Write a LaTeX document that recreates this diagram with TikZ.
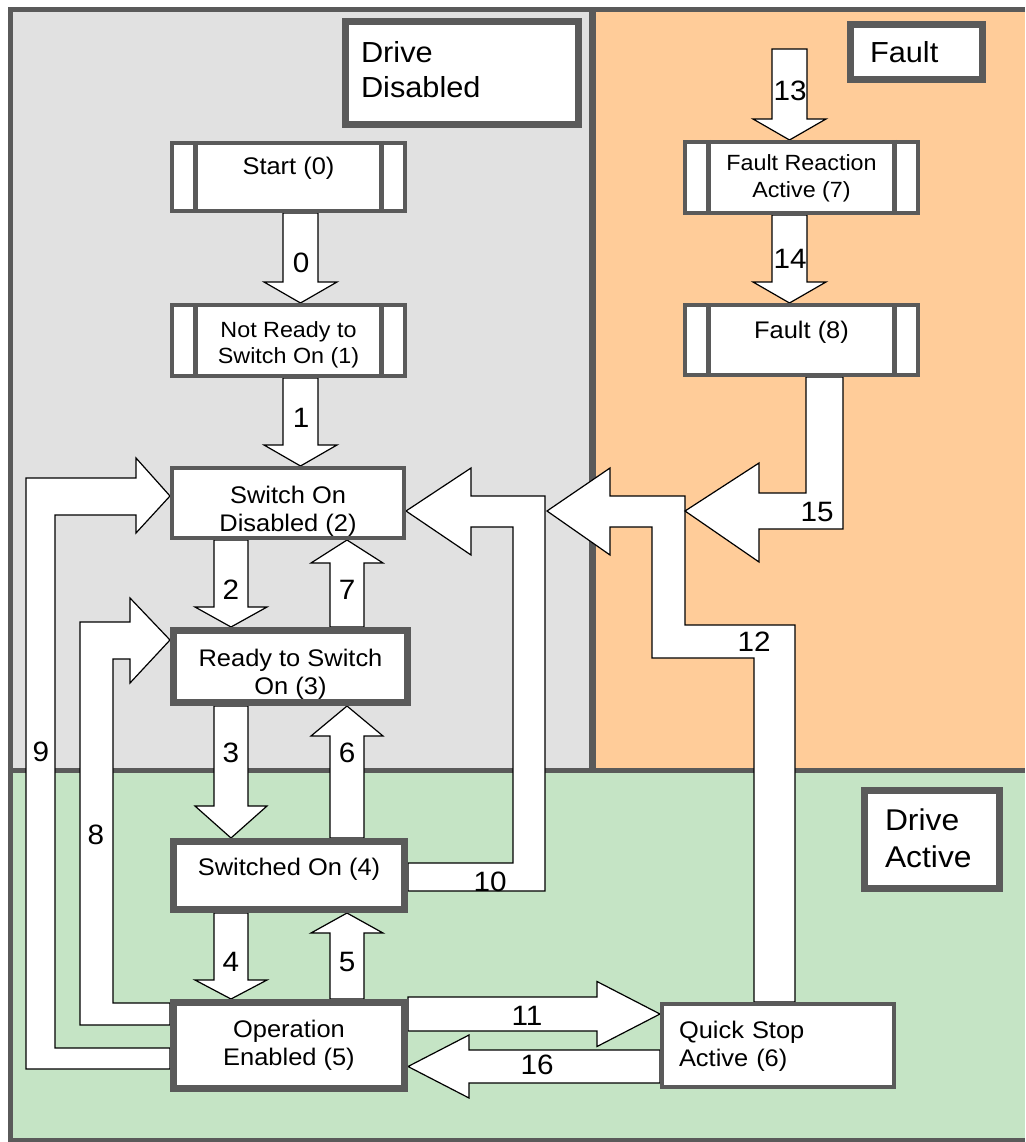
\documentclass[tikz,border=0pt]{standalone}
\usepackage{fontspec}
\setmainfont{Liberation Sans}[FakeStretch=1.06]
\usetikzlibrary{calc}
\pgfdeclarelayer{bg}
\pgfdeclarelayer{fg}
\pgfsetlayers{bg,main,fg}
\definecolor{bordergray}{HTML}{5A5A5A}
\definecolor{regiongray}{HTML}{E1E1E1}
\definecolor{regionorange}{HTML}{FFCC99}
\definecolor{regiongreen}{HTML}{C5E4C5}
\newcommand\tp[1]{\rule{0pt}{#1pt}}
\newcommand\bt[1]{\rule[-#1pt]{0pt}{#1pt}}
% vertical block arrow: tail point, tip point, shaft half width, head half width, head length
\newcommand\blockv[5]{%
  \path[blk] let \p1=(#1), \p2=(#2), \n1={sign(\y2-\y1)} in
    ({\x1-#3},{\y1}) -- ({\x1-#3},{\y2-(\n1)*#5}) -- ({\x1-#4},{\y2-(\n1)*#5}) --
    (\x2,\y2) -- ({\x1+#4},{\y2-(\n1)*#5}) -- ({\x1+#3},{\y2-(\n1)*#5}) --
    ({\x1+#3},{\y1}) -- cycle;}
% horizontal block arrow
\newcommand\blockh[5]{%
  \path[blk] let \p1=(#1), \p2=(#2), \n1={sign(\x2-\x1)} in
    ({\x1},{\y1-#3}) -- ({\x2-(\n1)*#5},{\y1-#3}) -- ({\x2-(\n1)*#5},{\y1-#4}) --
    (\x2,\y1) -- ({\x2-(\n1)*#5},{\y1+#4}) -- ({\x2-(\n1)*#5},{\y1+#3}) --
    ({\x1},{\y1+#3}) -- cycle;}
\tikzset{
  statebase/.style={draw=bordergray, fill=white, inner sep=0pt, align=center,
    text=black, font=\fontsize{24}{28}\selectfont},
  dbox/.style={statebase, line width=4, minimum width=233},
  thinbox/.style={statebase, line width=4},
  thickbox/.style={statebase, line width=7},
  tagbox/.style={draw=bordergray, fill=white, line width=7, inner sep=0pt,
    align=left, text=black, font=\fontsize{29}{35}\selectfont},
  sidebar/.style={draw=bordergray, line width=5},
  blk/.style={fill=white, draw=black, line width=1.2, line join=miter},
  lbl/.style={inner sep=0pt, text=black, font=\fontsize{28}{30}\selectfont},
  regionline/.style={draw=bordergray, line width=5},
}
\begin{document}
\begin{tikzpicture}[x=1pt,y=-1pt]
\useasboundingbox (0,0) rectangle (1025,1142);

\begin{pgfonlayer}{bg}
  \fill[regiongray] (10,10) rectangle (592,770);
  \fill[regionorange] (592,10) rectangle (1025,770);
  \fill[regiongreen] (10,770) rectangle (1025,1140);
  \draw[regionline] (1025,10) -- (10,10) -- (10,1140) -- (1025,1140);
  \draw[regionline, line width=7] (592,10) -- (592,770);
  \draw[regionline] (10,770) -- (1025,770);
\end{pgfonlayer}

\begin{pgfonlayer}{fg}
  % region tags
  \node[tagbox, minimum width=233, minimum height=103, text width=202] (dd) at (462,73)
    {\tp{22}Drive\\Disabled\bt{7}};
  \node[tagbox, minimum width=132, minimum height=55, text width=93,
        font=\fontsize{29}{36}\selectfont] (fl) at (916.5,52) {\tp{22.5}Fault\bt{0.5}};
  \node[tagbox, minimum width=135, minimum height=98, text width=94,
        font=\fontsize{30}{37}\selectfont] (da) at (932,839.5)
    {\tp{24}Drive\\Active\bt{6}};

  % states
  \node[dbox, minimum height=68] (start) at (288.5,177) {Start (0)\tp{18}\bt{22}};
  \node[dbox, minimum height=71, font=\fontsize{22}{26}\selectfont] (nr) at (288.5,340.5)
    {\tp{25}Not Ready to\\Switch On (1)\bt{6}};
  \node[dbox, minimum height=71, font=\fontsize{22}{27}\selectfont] (fra) at (801.5,177.5)
    {\tp{18}Fault Reaction\\Active (7)\bt{6}};
  \node[dbox, minimum height=70] (flt) at (801.5,340) {Fault (8)\tp{18}\bt{22}};
  \node[thinbox, minimum width=232, minimum height=70] (sod) at (288,503)
    {\tp{34}Switch On\\Disabled (2)\bt{6}};
  \node[thickbox, minimum width=234, minimum height=72] (rdy) at (290.5,666.5)
    {\tp{33}Ready to Switch\\On (3)\bt{6}};
  \node[thickbox, minimum width=231, minimum height=68] (son) at (289,875.5)
    {Switched On (4)\tp{18}\bt{19}};
  \node[thickbox, minimum width=231, minimum height=86] (op) at (289,1045.5)
    {\tp{19}Operation\\Enabled (5)\bt{6.5}};
  \node[thinbox, minimum width=232, minimum height=83, align=left, text width=198] (qs)
    at (778,1045.5) {\tp{19}Quick Stop\\Active (6)\bt{6}};

  % side bars of the double-bar states
  \foreach \n in {start,nr,fra,flt}{
    \draw[sidebar] ([xshift=-93]\n.north) -- ([xshift=-93]\n.south);
    \draw[sidebar] ([xshift=93]\n.north) -- ([xshift=93]\n.south);
  }

  % transition labels
  \node[lbl] (l0) at (301,263) {0};
  \node[lbl] (l1) at (301,418) {1};
  \node[lbl] (l13) at (790,91) {13};
  \node[lbl] (l14) at (790,259) {14};
  \node[lbl] (l2) at (231,590) {2};
  \node[lbl] (l7) at (347,590) {7};
  \node[lbl] (l3) at (231,753) {3};
  \node[lbl] (l6) at (347,753) {6};
  \node[lbl] (l4) at (231,962) {4};
  \node[lbl] (l5) at (347,962) {5};
  \node[lbl] (l9) at (41,752) {9};
  \node[lbl] (l8) at (96,835) {8};
  \node[lbl] (l10) at (490,882) {10};
  \node[lbl] (l11) at (527,1016) {11};
  \node[lbl] (l16) at (537,1065) {16};
  \node[lbl] (l12) at (754,642) {12};
  \node[lbl] (l15) at (817,512) {15};
\end{pgfonlayer}

% columns / rows for straight arrows
\coordinate (cA) at (300.5,0);
\coordinate (cF) at (789.5,0);
\coordinate (cL) at (231,0);
\coordinate (cR) at (347,0);
\coordinate (t13) at (789.5,49);
\coordinate (r11) at (0,1014);
\coordinate (r16) at (0,1066.5);

% straight transitions
\blockv{start.south -| cA}{nr.north -| cA}{17.5}{36.5}{21}
\blockv{nr.south -| cA}{sod.north -| cA}{17.5}{36.5}{21}
\blockv{t13}{fra.north -| cF}{17.5}{36.5}{21}
\blockv{fra.south -| cF}{flt.north -| cF}{17.5}{36.5}{21}
\blockv{sod.south -| cL}{rdy.north -| cL}{17}{36}{20}
\blockv{rdy.north -| cR}{sod.south -| cR}{17}{36}{23}
\blockv{rdy.south -| cL}{son.north -| cL}{17}{36}{32}
\blockv{son.north -| cR}{rdy.south -| cR}{17}{36}{30}
\blockv{son.south -| cL}{op.north -| cL}{17}{36}{19}
\blockv{op.north -| cR}{son.south -| cR}{17}{36}{20}
\blockh{op.east |- r11}{qs.west |- r11}{17}{32.5}{63}
\blockh{qs.west |- r16}{op.east |- r16}{16.5}{31.5}{61}

% transition 9
\path[blk] (op.west |- 0,1069) -- (26,1069) -- (26,478) -- (136,478) -- (136,458)
  -- (sod.west |- 0,496) -- (136,533) -- (136,515) -- (55,515) -- (55,1048)
  -- (op.west |- 0,1048) -- cycle;
% transition 8
\path[blk] (op.west |- 0,1025) -- (80,1025) -- (80,622) -- (130,622) -- (130,598)
  -- (rdy.west |- 0,640) -- (130,683) -- (130,659) -- (113,659) -- (113,1003)
  -- (op.west |- 0,1003) -- cycle;
% transition 10
\path[blk] (son.east |- 0,891) -- (545,891) -- (545,496) -- (471,496) -- (471,468)
  -- (sod.east |- 0,511) -- (471,555) -- (471,527) -- (513,527) -- (513,863)
  -- (son.east |- 0,863) -- cycle;
% transition 12
\path[blk] (qs.north -| 754,0) -- (754,658) -- (652,658) -- (652,527) -- (610,527)
  -- (610,555) -- (547,511) -- (610,468) -- (610,496) -- (685,496) -- (685,625)
  -- (795,625) -- (qs.north -| 795,0) -- cycle;
% transition 15
\path[blk] (flt.south -| 806,0) -- (806,493) -- (759,493) -- (759,463) -- (685,511)
  -- (759,562) -- (759,529) -- (843,529) -- (flt.south -| 843,0) -- cycle;
\end{tikzpicture}
\end{document}
